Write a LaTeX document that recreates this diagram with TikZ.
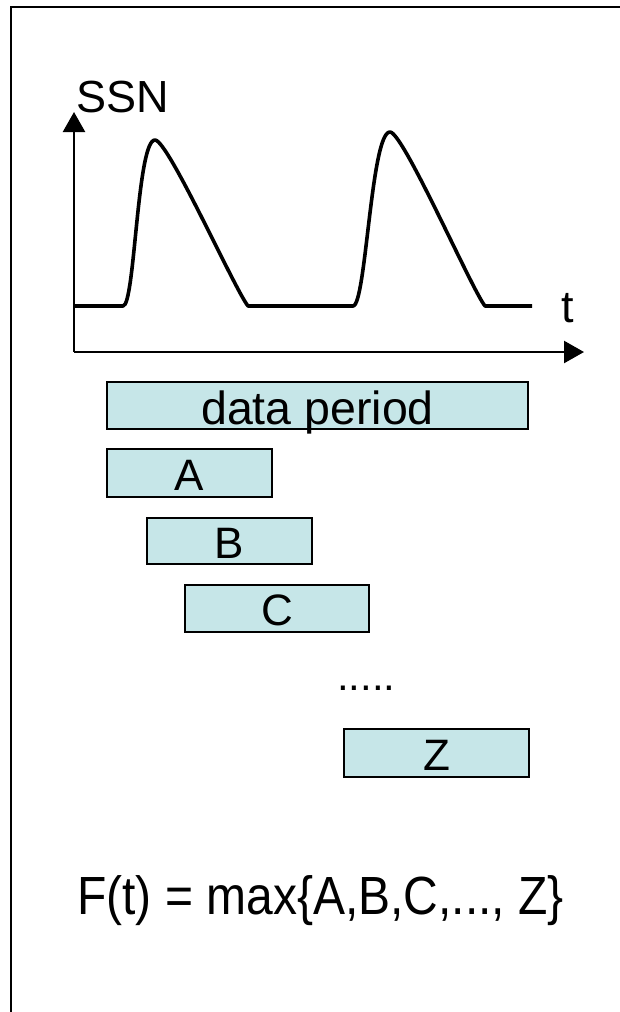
\documentclass[tikz,border=0pt]{standalone}
\usepackage{fontspec}
\setmainfont{Liberation Sans}
\usetikzlibrary{arrows.meta}
\definecolor{boxfill}{RGB}{198,230,232}
\begin{document}
\begin{tikzpicture}[x=1pt,y=-1pt,
  frameline/.style={line width=2.2pt},
  axis/.style={line width=2.4pt,-{Triangle[length=20pt,width=22pt]}},
  curve/.style={line width=3.6pt,line join=round},
  period/.style={draw=black,line width=1.6pt,fill=boxfill,inner sep=0pt,
     text height=34pt,text depth=0pt,font=\fontsize{44}{44}\selectfont},
  lbl/.style={inner sep=0pt,anchor=base west}]
\useasboundingbox (0,0) rectangle (620,1012);
% frame
\draw[frameline] (11,1014) -- (11,7) -- (622,7);
% axes
\coordinate (O) at (74,352);
\coordinate (Ytip) at (74,112);
\coordinate (Xtip) at (584,352);
\draw[axis] (O) -- (Ytip);
\draw[axis] (O) -- (Xtip);
\node[lbl,font=\fontsize{45}{45}\selectfont] (ssn) at (76,112) {SSN};
\node[lbl,font=\fontsize{45}{45}\selectfont] (t) at (561,322) {t};
% SSN curve
\draw[curve] (74,306) -- (123,306)
  .. controls (135,306) and (137,140) .. (155,140)
  .. controls (168,140) and (235,290) .. (248,306)
  -- (353,306)
  .. controls (366,306) and (371,132) .. (390,132)
  .. controls (403,132) and (472,290) .. (485,306)
  -- (532,306);
% periods
\node[period,minimum width=421pt,minimum height=47pt,text height=38pt,font=\fontsize{46.5}{46.5}\selectfont] (data) at (317.5,405.5) {data period};
\node[period,minimum width=165pt,minimum height=48pt] (A) at (189.5,473) {A};
\node[period,minimum width=165pt,minimum height=46pt] (B) at (229.5,541) {B};
\node[period,minimum width=184pt,minimum height=47pt] (C) at (277,608.5) {C};
\node[lbl,font=\fontsize{42}{42}\selectfont] (dots) at (337,690) {.....};
\node[period,minimum width=185pt,minimum height=48pt] (Z) at (436.5,753) {Z};
% formula
\node[lbl,font=\fontsize{48}{48}\selectfont,yscale=1.12] (F) at (77,914) {F(t) = max\{A,B,C,..., Z\}};
\end{tikzpicture}
\end{document}
